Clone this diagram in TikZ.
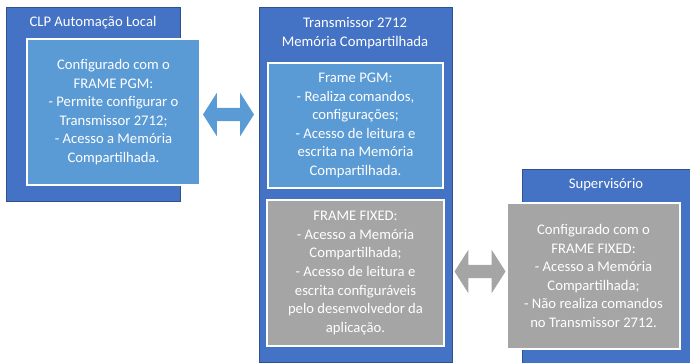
\documentclass[tikz,border=0pt]{standalone}
\usepackage{fontspec}
\setmainfont{Carlito}
\usetikzlibrary{shapes.arrows}
\definecolor{outerblue}{HTML}{4472C4}
\definecolor{edgeblue}{HTML}{2F528F}
\definecolor{innerblue}{HTML}{5B9BD5}
\definecolor{innergray}{HTML}{A5A5A5}

\begin{document}
\begin{tikzpicture}[
    x=1pt, y=-1pt,
    font=\fontsize{14.67}{18.6}\selectfont,
    every node/.style={align=center, text=white},
    group/.style={rectangle, draw=edgeblue, fill=outerblue, line width=0.8pt,
                  inner sep=0pt},
    panel/.style={rectangle, draw=white, line width=2pt, inner sep=0pt,
                  minimum width=174pt, minimum height=146pt},
    pgmpanel/.style={panel, fill=innerblue},
    fixpanel/.style={panel, fill=innergray},
    title/.style={inner sep=1pt},
    link/.style={double arrow, inner xsep=0pt, inner ysep=6.5pt,
                 minimum height=51pt, double arrow head extend=15pt,
                 double arrow tip angle=115}
  ]
  \useasboundingbox (0,0) rectangle (690,363);

  % Outer groups.
  \node[group, minimum width=174pt, minimum height=194pt] (clp) at (93,104)    {};
  \node[group, minimum width=193pt, minimum height=355pt] (trans) at (355.5,184.5) {};
  \node[group, minimum width=168pt, minimum height=194pt] (sup) at (606,266)   {};

  % Group titles.
  \node[title] (clpT)   at (93,23)  {CLP Automação Local};
  \node[title] (transT) at (355,33) {Transmissor 2712\\Memória Compartilhada};
  \node[title] (supT)   at (606,185) {Supervisório};

  % Panels.
  \node[pgmpanel, minimum width=173pt] (clpIn) at (113.5,112)
    {Configurado com o\\FRAME PGM:\\- Permite configurar o\\Transmissor 2712;\\- Acesso a Memória\\Compartilhada.};
  \node[pgmpanel, minimum width=175pt, minimum height=125pt] (pgm) at (355.5,125.5)
    {Frame PGM:\\- Realiza comandos,\\configurações;\\- Acesso de leitura e\\escrita na Memória\\Compartilhada.};
  \node[fixpanel, minimum width=177pt] (fixed) at (355.5,273)
    {FRAME FIXED:\\- Acesso a Memória\\Compartilhada;\\- Acesso de leitura e\\escrita configuráveis\\pelo desenvolvedor da\\aplicação.};
  \node[fixpanel, minimum width=173pt] (supIn) at (593.5,276)
    {Configurado com o\\FRAME FIXED:\\- Acesso a Memória\\Compartilhada;\\- Não realiza comandos\\no Transmissor 2712.};

  % Exchange arrows.
  \node[link, fill=innerblue] (clpLink) at (228.5,114.5) {};
  \node[link, fill=innergray] (supLink) at (480,271.5) {};

\end{tikzpicture}
\end{document}
